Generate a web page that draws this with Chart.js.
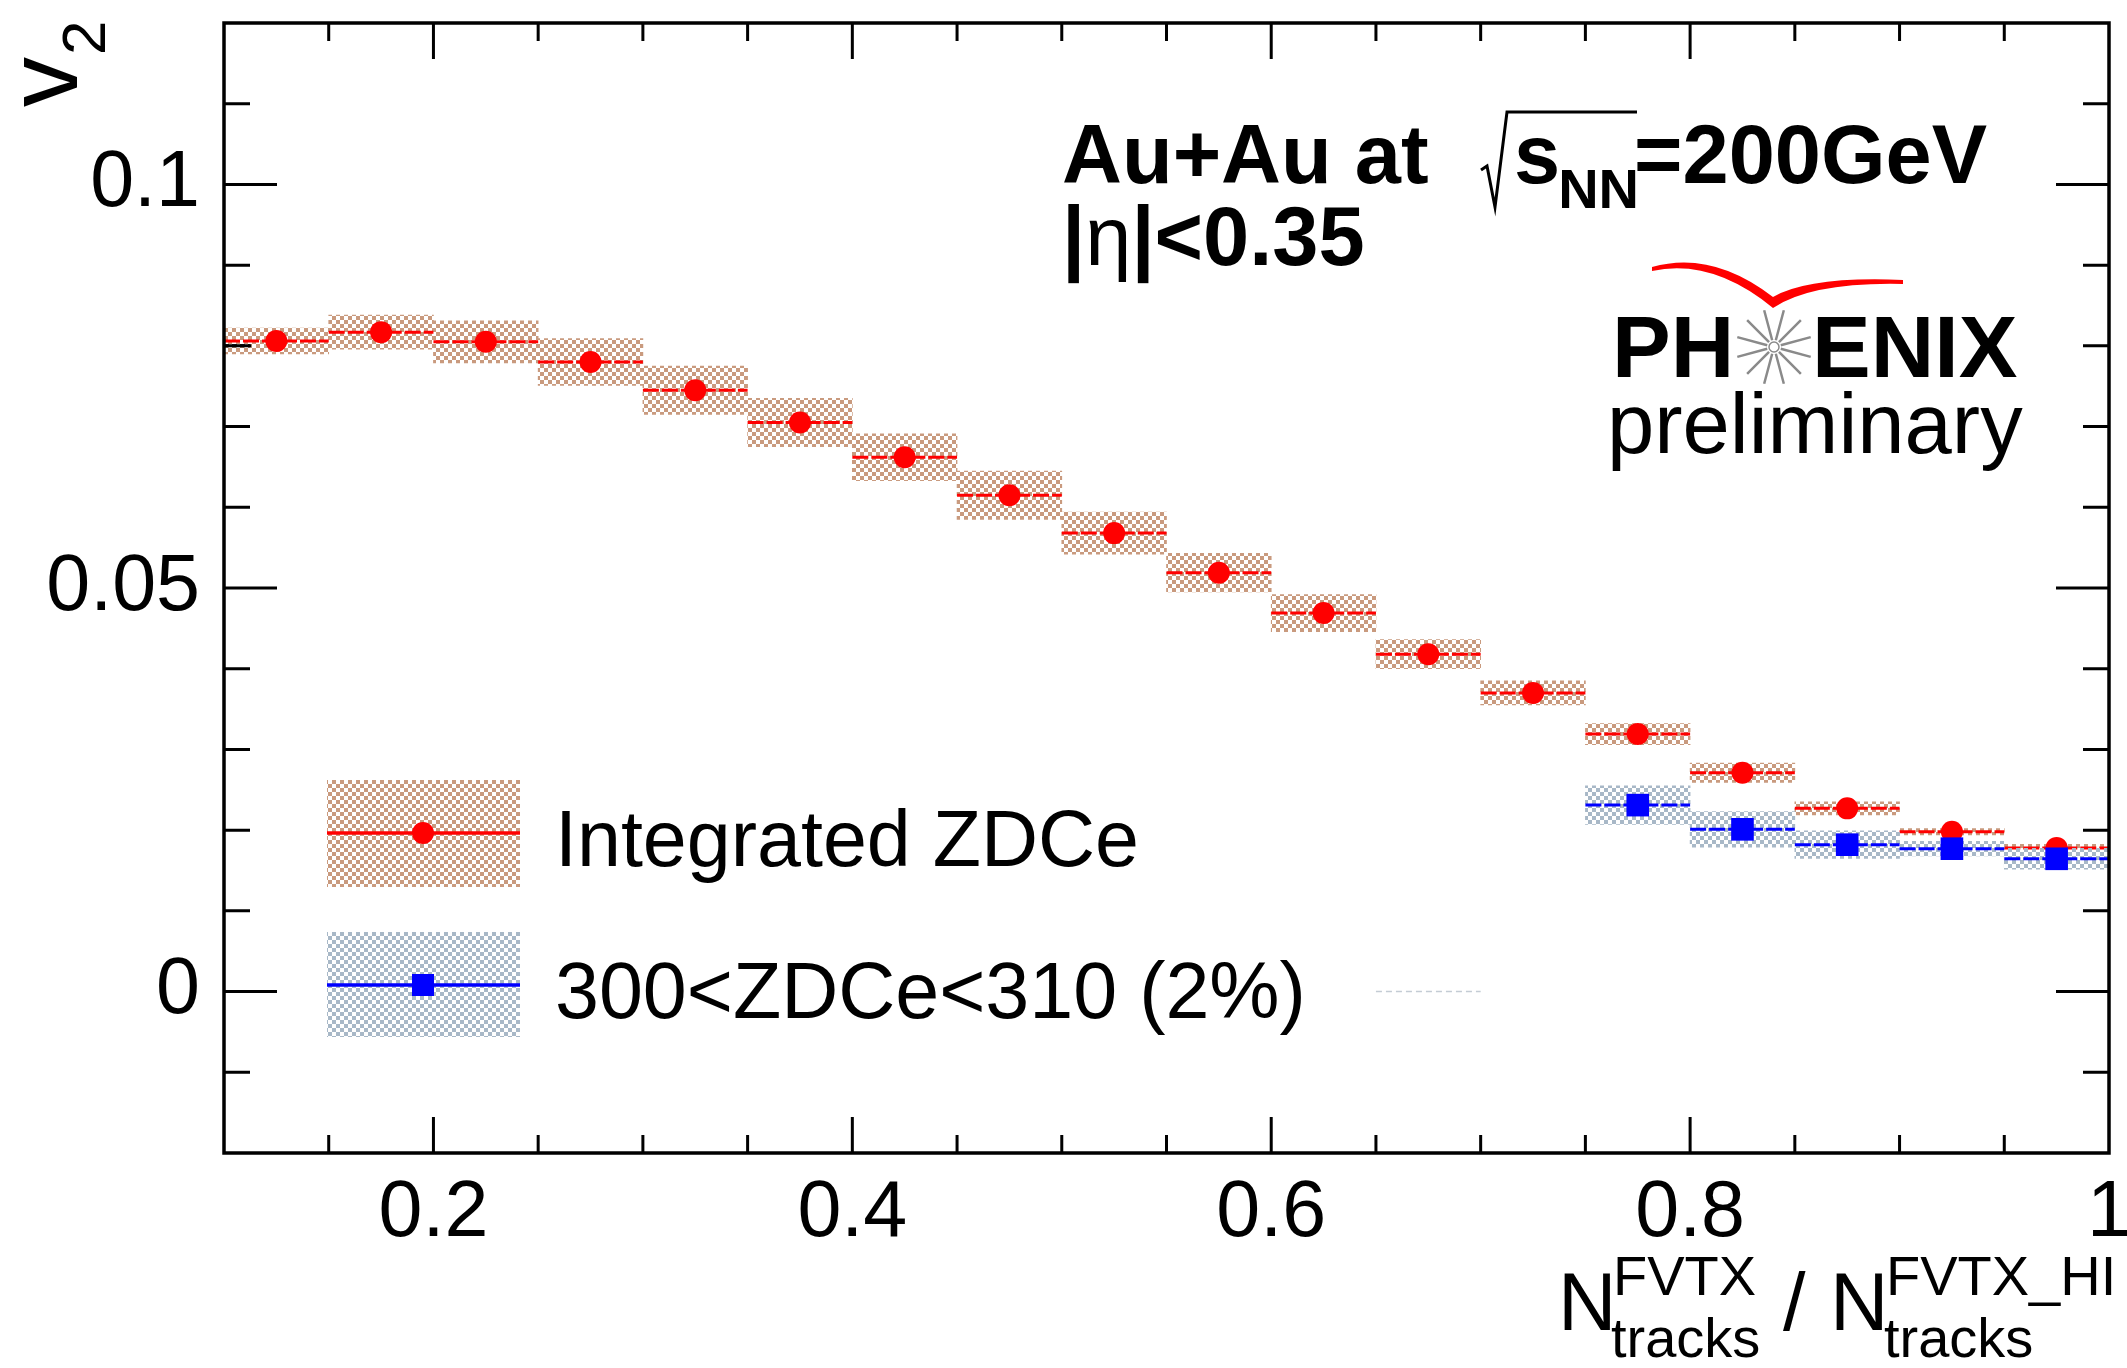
<!DOCTYPE html>
<html>
<head>
<meta charset="utf-8">
<script src="https://cdn.jsdelivr.net/npm/chart.js@4/dist/chart.umd.min.js"></script>
<style>
  html, body { margin: 0; padding: 0; background: #ffffff; }
  #wrap { width: 2127px; height: 1368px; }
</style>
</head>
<body>
<div id="wrap"><canvas id="graficoV2" width="2127" height="1368"></canvas></div>
<script>
// bin centres (x) and half width of each bin
const binCenters = [0.125, 0.175, 0.225, 0.275, 0.325, 0.375, 0.425, 0.475, 0.525,
                    0.575, 0.625, 0.675, 0.725, 0.775, 0.825, 0.875, 0.925, 0.975];
const binHalfWidth = 0.025;

// Integrated ZDCe: v2 and systematic error
const v2Integrated = [0.0806, 0.0817, 0.0805, 0.0780, 0.0745, 0.0705, 0.0662, 0.0615, 0.0568,
                      0.0519, 0.0469, 0.0418, 0.0370, 0.0319, 0.0271, 0.0227, 0.0198, 0.0178];
const sysIntegrated = [0.0016, 0.0021, 0.0026, 0.0029, 0.0030, 0.0030, 0.0029, 0.0030, 0.0026,
                       0.0024, 0.0023, 0.0018, 0.0015, 0.0013, 0.0012, 0.0008, 0.0004, 0.00045];

// 300<ZDCe<310 (2%): only the last five bins
const centralCenters = [0.775, 0.825, 0.875, 0.925, 0.975];
const v2Central = [0.0231, 0.0201, 0.0182, 0.0177, 0.01645];
const sysCentral = [0.0024, 0.0022, 0.0017, 0.0009, 0.0013];

// small dotted stubs visible in the original
const stubBlackZero = [[0.1, 0], [0.124, 0]];
const stubBlackTop = [[0.1, 0.08], [0.113, 0.08]];
const stubGreyZero = [[0.65, 0], [0.70, 0]];

// axis ticks and labels
const xTicks = [0.2, 0.4, 0.6, 0.8, 1];
const xTickLabels = ["0.2", "0.4", "0.6", "0.8", "1"];
const xMinorTicks = [0.15, 0.2, 0.25, 0.3, 0.35, 0.4, 0.45, 0.5, 0.55, 0.6, 0.65, 0.7, 0.75, 0.8, 0.85, 0.9, 0.95];
const yTicks = [0, 0.05, 0.1];
const yTickLabels = ["0", "0.05", "0.1"];
const yMinorTicks = [-0.01, 0, 0.01, 0.02, 0.03, 0.04, 0.05, 0.06, 0.07, 0.08, 0.09, 0.1, 0.11];

const FONT = "'Liberation Sans', Arial, Helvetica, sans-serif";

// checkerboard fill like the ROOT hatch
function checker(color) {
  const c = document.createElement("canvas");
  c.width = 8;
  c.height = 8;
  const g = c.getContext("2d");
  g.fillStyle = color;
  g.fillRect(0, 0, 4, 4);
  g.fillRect(4, 4, 4, 4);
  return g.createPattern(c, "repeat");
}
const redFill = checker("#c99a7e");
const blueFill = checker("#a8b8c7");

// floating bars = systematic boxes
function boxes(centers, values, errs) {
  return centers.map((c, i) => ({ x: c, y: [values[i] - errs[i], values[i] + errs[i]] }));
}
// horizontal bars across the bin, broken with null
function binLines(centers, values) {
  const pts = [];
  centers.forEach((c, i) => {
    pts.push({ x: c - binHalfWidth, y: values[i] });
    pts.push({ x: c + binHalfWidth, y: values[i] });
    pts.push({ x: c, y: null });
  });
  return pts;
}
function points(centers, values) {
  return centers.map((c, i) => ({ x: c, y: values[i] }));
}
function pairs(list) {
  return list.map((p) => ({ x: p[0], y: p[1] }));
}

function txt(ctx, s, x, y, font, color) {
  ctx.font = font;
  ctx.fillStyle = color || "#000";
  ctx.textAlign = "left";
  ctx.textBaseline = "alphabetic";
  ctx.fillText(s, x, y);
  return ctx.measureText(s).width;
}

// frame and inward ticks like ROOT
const frameTicks = {
  id: "frameTicks",
  afterDatasetsDraw(chart) {
    const ctx = chart.ctx;
    const { left, right, top, bottom } = chart.chartArea;
    const xs = chart.scales.x;
    const ys = chart.scales.y;
    ctx.save();
    ctx.strokeStyle = "#000";
    ctx.lineWidth = 3;
    ctx.beginPath();
    xMinorTicks.forEach((v) => {
      const px = xs.getPixelForValue(v);
      const len = xTicks.includes(v) ? 36 : 18;
      ctx.moveTo(px, bottom);
      ctx.lineTo(px, bottom - len);
      ctx.moveTo(px, top);
      ctx.lineTo(px, top + len);
    });
    yMinorTicks.forEach((v) => {
      const py = ys.getPixelForValue(v);
      const len = yTicks.includes(v) ? 53 : 26;
      ctx.moveTo(left, py);
      ctx.lineTo(left + len, py);
      ctx.moveTo(right, py);
      ctx.lineTo(right - len, py);
    });
    ctx.stroke();
    ctx.lineWidth = 3.5;
    ctx.strokeRect(left, top, right - left, bottom - top);
    ctx.restore();
  },
};

// titles, legend, labels and logo
const decorations = {
  id: "decorations",
  afterDraw(chart) {
    const ctx = chart.ctx;
    ctx.save();

    // y title v_2
    ctx.save();
    ctx.translate(77, 107);
    ctx.rotate(-Math.PI / 2);
    txt(ctx, "v", 0, 0, "100px " + FONT);
    txt(ctx, "2", 52, 28, "62px " + FONT);
    ctx.restore();

    // x title
    txt(ctx, "N", 1558, 1330, "81px " + FONT);
    txt(ctx, "FVTX", 1613, 1295, "56px " + FONT);
    txt(ctx, "tracks", 1611, 1357, "56px " + FONT);
    txt(ctx, "/", 1783, 1330, "81px " + FONT);
    txt(ctx, "N", 1830, 1330, "81px " + FONT);
    txt(ctx, "FVTX_HI", 1886, 1295, "56px " + FONT);
    txt(ctx, "tracks", 1884, 1357, "56px " + FONT);

    // collision system label
    txt(ctx, "Au+Au at", 1062, 183, "bold 83px " + FONT);
    ctx.strokeStyle = "#000";
    ctx.lineWidth = 3;
    ctx.beginPath();
    ctx.moveTo(1481, 170);
    ctx.lineTo(1487, 166);
    ctx.lineTo(1495, 207);
    ctx.lineTo(1507, 112);
    ctx.lineTo(1637, 112);
    ctx.stroke();
    let w = txt(ctx, "s", 1514, 183, "bold 83px " + FONT);
    txt(ctx, "NN", 1514 + w - 2, 208, "bold 56px " + FONT);
    txt(ctx, "=200GeV", 1634, 183, "bold 83px " + FONT);

    let x = 1062;
    x += txt(ctx, "|", x, 265, "bold 83px " + FONT);
    x += txt(ctx, "\u03b7", x, 265, "83px " + FONT);
    txt(ctx, "|<0.35", x, 265, "bold 83px " + FONT);

    // PHENIX logo
    ctx.fillStyle = "#ff0000";
    ctx.beginPath();
    ctx.moveTo(1652, 267);
    ctx.quadraticCurveTo(1712, 250, 1773, 297);
    ctx.quadraticCurveTo(1810, 276, 1903, 280);
    ctx.lineTo(1903, 284);
    ctx.quadraticCurveTo(1812, 282, 1773, 308);
    ctx.quadraticCurveTo(1712, 258, 1652, 271);
    ctx.closePath();
    ctx.fill();

    txt(ctx, "PH", 1612, 377, "bold 88px " + FONT);
    txt(ctx, "ENIX", 1812, 377, "bold 88px " + FONT);
    ctx.strokeStyle = "#8a8a8a";
    ctx.lineWidth = 2.5;
    ctx.beginPath();
    for (let k = 0; k < 12; k++) {
      const a = ((15 + 30 * k) * Math.PI) / 180;
      ctx.moveTo(1774 + 7 * Math.sin(a), 347 - 7 * Math.cos(a));
      ctx.lineTo(1774 + 38 * Math.sin(a), 347 - 38 * Math.cos(a));
    }
    ctx.stroke();
    ctx.lineWidth = 1.5;
    ctx.beginPath();
    ctx.arc(1774, 347, 5, 0, Math.PI * 2);
    ctx.stroke();
    txt(ctx, "preliminary", 1607, 453, "85px " + FONT);

    // legend
    ctx.fillStyle = redFill;
    ctx.fillRect(327, 780, 193, 107);
    ctx.fillStyle = blueFill;
    ctx.fillRect(327, 932, 193, 105);
    ctx.lineWidth = 3.5;
    ctx.strokeStyle = "#ff0000";
    ctx.beginPath();
    ctx.moveTo(327, 833);
    ctx.lineTo(520, 833);
    ctx.stroke();
    ctx.fillStyle = "#ff0000";
    ctx.beginPath();
    ctx.arc(423, 833, 11, 0, Math.PI * 2);
    ctx.fill();
    ctx.strokeStyle = "#0000ff";
    ctx.beginPath();
    ctx.moveTo(327, 985);
    ctx.lineTo(520, 985);
    ctx.stroke();
    ctx.fillStyle = "#0000ff";
    ctx.fillRect(412, 974, 22, 22);
    txt(ctx, "Integrated ZDCe", 555, 866, "79px " + FONT);
    txt(ctx, "300<ZDCe<310 (2%)", 555, 1018, "79px " + FONT);

    ctx.restore();
  },
};

const ctx = document.getElementById("graficoV2").getContext("2d");
const v2Chart = new Chart(ctx, {
  type: "scatter",
  data: {
    datasets: [
      {
        type: "bar",
        label: "Integrated ZDCe sys",
        data: boxes(binCenters, v2Integrated, sysIntegrated),
        backgroundColor: redFill,
        borderWidth: 0,
        barPercentage: 1,
        categoryPercentage: 1,
        grouped: false,
        order: 8,
      },
      {
        type: "line",
        label: "Integrated ZDCe bins",
        data: binLines(binCenters, v2Integrated),
        borderColor: "#ff0000",
        borderWidth: 3,
        borderDash: [16, 3],
        pointRadius: 0,
        order: 7,
      },
      {
        type: "scatter",
        label: "Integrated ZDCe",
        data: points(binCenters, v2Integrated),
        pointStyle: "circle",
        pointRadius: 11,
        pointBackgroundColor: "#ff0000",
        pointBorderWidth: 0,
        order: 6,
      },
      {
        type: "bar",
        label: "300<ZDCe<310 sys",
        data: boxes(centralCenters, v2Central, sysCentral),
        backgroundColor: blueFill,
        borderWidth: 0,
        barPercentage: 1,
        categoryPercentage: 1,
        grouped: false,
        order: 5,
      },
      {
        type: "line",
        label: "300<ZDCe<310 bins",
        data: binLines(centralCenters, v2Central),
        borderColor: "#0000ff",
        borderWidth: 3,
        borderDash: [16, 3],
        pointRadius: 0,
        order: 4,
      },
      {
        type: "scatter",
        label: "300<ZDCe<310 (2%)",
        data: points(centralCenters, v2Central),
        pointStyle: "rect",
        pointRadius: 16,
        pointBackgroundColor: "#0000ff",
        pointBorderWidth: 0,
        order: 3,
      },
      {
        type: "line",
        data: pairs(stubBlackZero),
        borderColor: "#000",
        borderWidth: 3,
        borderDash: [5, 3],
        pointRadius: 0,
        order: 2,
      },
      {
        type: "line",
        data: pairs(stubBlackTop),
        borderColor: "#000",
        borderWidth: 3,
        borderDash: [5, 3],
        pointRadius: 0,
        order: 2,
      },
      {
        type: "line",
        data: pairs(stubGreyZero),
        borderColor: "#c4ccd4",
        borderWidth: 1.5,
        borderDash: [6, 4],
        pointRadius: 0,
        order: 2,
      },
    ],
  },
  options: {
    responsive: false,
    animation: false,
    devicePixelRatio: 1,
    layout: { padding: { left: 0, right: 18, top: 23, bottom: 0 } },
    plugins: { legend: { display: false }, tooltip: { enabled: false } },
    scales: {
      x: {
        type: "linear",
        min: 0.1,
        max: 1,
        offset: false,
        grid: { display: false, drawTicks: false },
        border: { display: false },
        afterBuildTicks: (s) => {
          s.ticks = xTicks.map((v) => ({ value: v }));
        },
        afterFit: (s) => {
          s.height = 215;
          s.paddingLeft = 0;
          s.paddingRight = 0;
        },
        ticks: {
          callback: (v) => xTickLabels[xTicks.indexOf(v)],
          font: { family: FONT, size: 79 },
          color: "#000",
          padding: 14,
          maxRotation: 0,
          autoSkip: false,
        },
      },
      y: {
        type: "linear",
        min: -0.02,
        max: 0.12,
        grid: { display: false, drawTicks: false },
        border: { display: false },
        afterBuildTicks: (s) => {
          s.ticks = yTicks.map((v) => ({ value: v }));
        },
        afterFit: (s) => {
          s.width = 224;
          s.paddingTop = 0;
          s.paddingBottom = 0;
        },
        ticks: {
          callback: (v) => yTickLabels[yTicks.indexOf(v)],
          font: { family: FONT, size: 79 },
          color: "#000",
          padding: 24,
          autoSkip: false,
        },
      },
    },
  },
  plugins: [frameTicks, decorations],
});
</script>
</body>
</html>
